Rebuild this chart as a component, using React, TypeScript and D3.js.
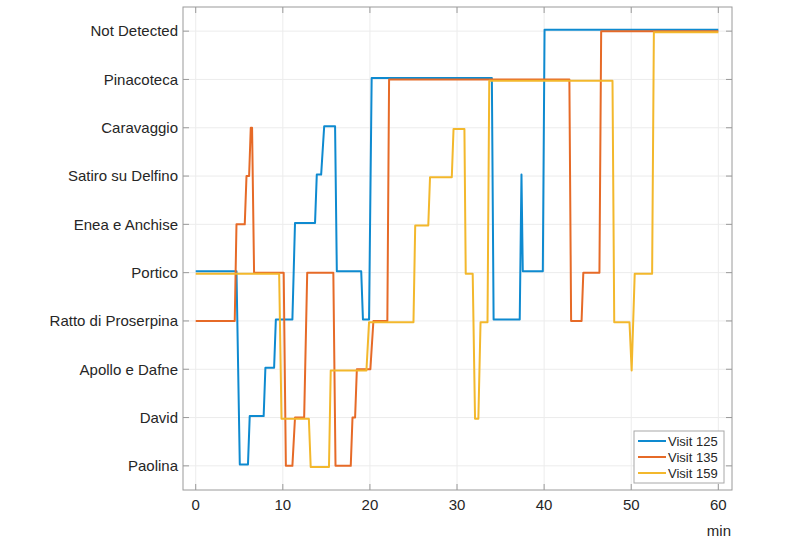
import * as d3 from "d3";

const categories = [
  "Paolina",
  "David",
  "Apollo e Dafne",
  "Ratto di Proserpina",
  "Portico",
  "Enea e Anchise",
  "Satiro su Delfino",
  "Caravaggio",
  "Pinacoteca",
  "Not Detected",
];

const xTicks = [0, 10, 20, 30, 40, 50, 60];

// [minute, category index]
const visit125: [number, number][] = [
  [0, 4], [4.68, 4], [5.06, 0], [6.0, 0], [6.2, 1], [7.8, 1], [8.0, 2], [9.0, 2],
  [9.2, 3], [11.1, 3], [11.4, 5], [13.7, 5], [13.9, 6], [14.4, 6], [14.75, 7],
  [16.0, 7], [16.2, 4], [19.0, 4], [19.2, 3], [19.9, 3], [20.2, 8], [34.0, 8],
  [34.2, 3], [37.2, 3], [37.4, 6], [37.55, 4], [39.85, 4], [40.05, 9], [60, 9],
];

const visit135: [number, number][] = [
  [0, 3], [4.48, 3], [4.68, 5], [5.63, 5], [5.83, 6], [6.13, 6], [6.32, 7],
  [6.47, 7], [6.7, 4], [10.1, 4], [10.35, 0], [11.1, 0], [11.4, 1], [12.45, 1],
  [12.8, 4], [15.8, 4], [16.05, 0], [17.8, 0], [18.0, 1], [18.3, 1], [18.5, 2],
  [20.05, 2], [20.4, 3], [22.0, 3], [22.2, 8], [42.9, 8], [43.1, 3], [44.3, 3],
  [44.5, 4], [46.35, 4], [46.55, 9], [60, 9],
];

const visit159: [number, number][] = [
  [0, 4], [9.58, 4], [9.85, 1], [12.99, 1], [13.2, 0], [15.3, 0], [15.5, 2],
  [19.6, 2], [19.9, 3], [25.0, 3], [25.2, 5], [26.7, 5], [26.9, 6], [29.4, 6],
  [29.6, 7], [30.85, 7], [31.0, 4], [31.8, 4], [32.07, 1], [32.45, 1], [32.7, 3],
  [33.5, 3], [33.7, 8], [47.85, 8], [48.05, 3], [49.8, 3], [50.05, 2], [50.4, 4],
  [52.4, 4], [52.6, 9], [60, 9],
];

const series = [
  { name: "Visit 125", data: visit125, color: "#0e8ad0", offset: 0.03 },
  { name: "Visit 135", data: visit135, color: "#e66a27", offset: 0 },
  { name: "Visit 159", data: visit159, color: "#f3b82c", offset: -0.025 },
];

export default function App() {
  const width = 789;
  const height = 558;
  const box = { left: 183, right: 732, top: 7, bottom: 490 };

  const x = d3.scaleLinear().domain([-1.46, 61.57]).range([box.left, box.right]);
  const y = d3.scaleLinear().domain([-0.5, 9.5]).range([box.bottom, box.top]);

  const font = "'Liberation Sans', Arial, sans-serif";
  const textColor = "#262626";
  const axisColor = "#9a9a9a";
  const gridColor = "#ececec";

  const line = (offset: number) =>
    d3
      .line<[number, number]>()
      .x((d) => x(d[0]))
      .y((d) => y(d[1] + offset));

  const legend = { x: 634, y: 431, w: 90, h: 52 };

  return (
    <div style={{ position: "absolute", left: 0, top: 0 }}>
      <svg width={width} height={height} style={{ display: "block", background: "#fff" }}>
        {/* grid */}
        {xTicks.map((t) => (
          <line key={"gx" + t} x1={x(t)} x2={x(t)} y1={box.top} y2={box.bottom} stroke={gridColor} />
        ))}
        {categories.map((c, i) => (
          <line key={"gy" + c} x1={box.left} x2={box.right} y1={y(i)} y2={y(i)} stroke={gridColor} />
        ))}

        {/* series */}
        {series.map((s) => (
          <path
            key={s.name}
            d={line(s.offset)(s.data) ?? ""}
            fill="none"
            stroke={s.color}
            strokeWidth={2}
            strokeLinejoin="round"
          />
        ))}

        {/* frame */}
        <rect
          x={box.left}
          y={box.top}
          width={box.right - box.left}
          height={box.bottom - box.top}
          fill="none"
          stroke={axisColor}
        />
        {xTicks.map((t) => (
          <g key={"tx" + t}>
            <line x1={x(t)} x2={x(t)} y1={box.bottom} y2={box.bottom - 6} stroke={axisColor} />
            <line x1={x(t)} x2={x(t)} y1={box.top} y2={box.top + 6} stroke={axisColor} />
            <text
              x={x(t)}
              y={510}
              textAnchor="middle"
              fontFamily={font}
              fontSize={15}
              fill={textColor}
            >
              {t}
            </text>
          </g>
        ))}
        {categories.map((c, i) => (
          <g key={"ty" + c}>
            <line x1={box.left} x2={box.left + 6} y1={y(i)} y2={y(i)} stroke={axisColor} />
            <line x1={box.right} x2={box.right - 6} y1={y(i)} y2={y(i)} stroke={axisColor} />
            <text
              x={178}
              y={y(i)}
              dy="0.35em"
              textAnchor="end"
              fontFamily={font}
              fontSize={15}
              fill={textColor}
            >
              {c}
            </text>
          </g>
        ))}
        <text x={731} y={536} textAnchor="end" fontFamily={font} fontSize={15} fill={textColor}>
          min
        </text>

        {/* legend */}
        <rect x={legend.x} y={legend.y} width={legend.w} height={legend.h} fill="#fff" stroke="#a8a8a8" />
        {series.map((s, i) => {
          const ly = legend.y + 10 + i * 16;
          return (
            <g key={"lg" + s.name}>
              <line x1={legend.x + 4} x2={legend.x + 32} y1={ly} y2={ly} stroke={s.color} strokeWidth={2} />
              <text
                x={legend.x + 34}
                y={ly}
                dy="0.35em"
                fontFamily={font}
                fontSize={13}
                fill={textColor}
              >
                {s.name}
              </text>
            </g>
          );
        })}
      </svg>
    </div>
  );
}
